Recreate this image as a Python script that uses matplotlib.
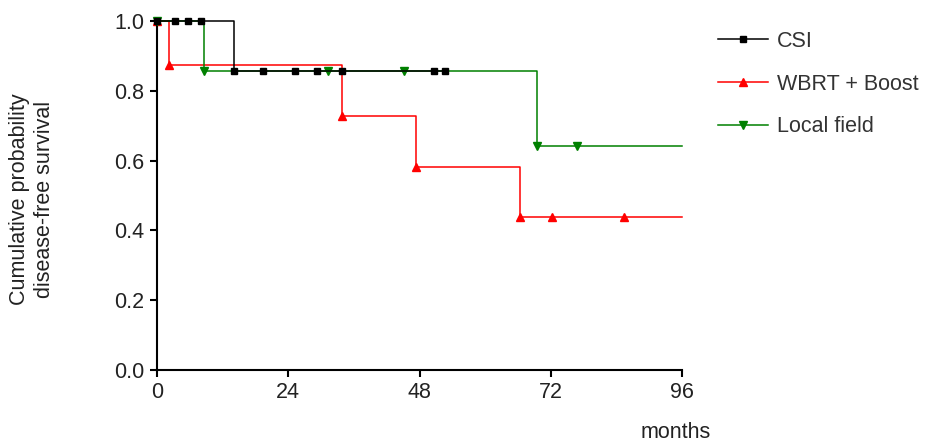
import matplotlib
matplotlib.use("Agg")
import matplotlib.pyplot as plt

# Data
csi_t = [0, 3.3, 5.7, 8.0, 14.1, 19.4, 25.2, 29.3, 33.8, 50.6, 52.7]
csi_s = [1.0, 1.0, 1.0, 1.0, 0.857, 0.857, 0.857, 0.857, 0.857, 0.857, 0.857]

wbrt_t = [0, 2.2, 33.8, 47.3, 66.4, 72.2, 85.4, 96]
wbrt_s = [1.0, 0.875, 0.729, 0.583, 0.437, 0.437, 0.437, 0.437]

local_t = [0, 8.6, 31.3, 45.2, 69.5, 76.8, 96]
local_s = [1.0, 0.857, 0.857, 0.857, 0.643, 0.643, 0.643]

labels = ["CSI", "WBRT + Boost", "Local field"]
xticks = [0, 24, 48, 72, 96]
yticks = [0.0, 0.2, 0.4, 0.6, 0.8, 1.0]

plt.rcParams['font.family'] = ['Liberation Sans', 'DejaVu Sans']

fig = plt.figure(figsize=(9.32, 4.46), dpi=100)
ax = fig.add_axes([157/932, 1 - 370/446, (682 - 157)/932, (370 - 21)/446])

lw = 1.1
ax.plot(wbrt_t, wbrt_s, drawstyle='steps-post', color='#ff0000', lw=lw,
        marker='^', markersize=5.5, markevery=list(range(len(wbrt_t) - 1)),
        clip_on=False, label=labels[1], zorder=2)
ax.plot(local_t, local_s, drawstyle='steps-post', color='#008000', lw=lw,
        marker='v', markersize=5.5, markevery=list(range(len(local_t) - 1)),
        clip_on=False, label=labels[2], zorder=3)
ax.plot(csi_t, csi_s, drawstyle='steps-post', color='black', lw=lw,
        marker='s', markersize=5, clip_on=False, label=labels[0], zorder=4)

ax.set_xlim(0, 96)
ax.set_ylim(0, 1.0)
ax.set_xticks(xticks)
ax.set_xticklabels([str(v) for v in xticks])
ax.set_yticks(yticks)
ax.set_yticklabels([f"{v:.1f}" for v in yticks])

for s in ['top', 'right']:
    ax.spines[s].set_visible(False)
for s in ['left', 'bottom']:
    ax.spines[s].set_linewidth(1.5)
ax.tick_params(direction='out', length=5, width=1.5, labelsize=15.5,
               colors='black', labelcolor='#222222', pad=4)

fig.text(32/932, 1 - 199/446, "Cumulative probability\ndisease-free survival",
         fontsize=15.5, color='#222222', rotation=90, ha='center', va='center',
         linespacing=1.25, multialignment='center')
fig.text(676/932, 1 - 432/446, "months", fontsize=15.5, color='#222222',
         ha='center', va='center')

h, l = ax.get_legend_handles_labels()
order = [2, 0, 1]
leg = fig.legend([h[i] for i in order], [l[i] for i in order],
                 loc='upper left', bbox_to_anchor=(718/932, 1 - 31/446),
                 frameon=False, fontsize=15.5, handlelength=2.3,
                 handletextpad=0.45, labelspacing=1.0, borderpad=0,
                 borderaxespad=0)
for t in leg.get_texts():
    t.set_color('#333333')

fig.savefig("out.png", dpi=100)
